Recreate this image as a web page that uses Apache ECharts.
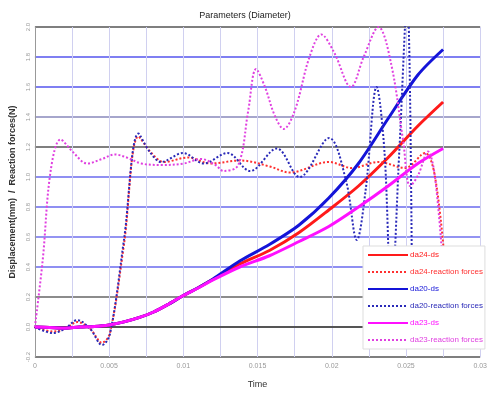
<!DOCTYPE html>
<html>
<head>
<meta charset="utf-8">
<script src="https://cdn.jsdelivr.net/npm/echarts@6/dist/echarts.min.js"></script>
<style>
  html, body { margin: 0; padding: 0; background: #fff; }
  #main { width: 490px; height: 394px; }
</style>
</head>
<body>
<div id="main"></div>
<script>
// displacement curves share one time base
var dsTime = [0, 0.001, 0.002, 0.003, 0.004, 0.005, 0.006, 0.007, 0.008, 0.009, 0.010, 0.011, 0.012,
              0.0138, 0.0158, 0.0178, 0.0198, 0.0218, 0.0238, 0.0258, 0.0275];
var da24Ds = [0, -0.004, -0.008, 0, 0.004, 0.014, 0.034, 0.062, 0.10, 0.152, 0.21, 0.262, 0.318,
              0.42, 0.51, 0.63, 0.78, 0.94, 1.13, 1.34, 1.50];
var da20Ds = [0, -0.004, -0.008, 0, 0.004, 0.014, 0.034, 0.062, 0.10, 0.152, 0.21, 0.262, 0.32,
              0.44, 0.55, 0.68, 0.86, 1.09, 1.39, 1.68, 1.85];
var da23Ds = [0, -0.004, -0.008, 0, 0.004, 0.014, 0.034, 0.062, 0.10, 0.152, 0.21, 0.26, 0.314,
              0.40, 0.475, 0.57, 0.67, 0.80, 0.94, 1.09, 1.19];

// reaction forces
var da24RfTime = [0, 0.0012, 0.002, 0.00286, 0.00373, 0.00452, 0.00506, 0.006, 0.00698, 0.00785, 0.00871,
                  0.01031, 0.01184, 0.01384, 0.01583, 0.01716, 0.01982, 0.02135, 0.02315, 0.02494, 0.02628, 0.02694, 0.0276];
var da24Rf = [0, -0.03, -0.013, 0.033, -0.013, -0.105, -0.04, 0.55, 1.27, 1.16, 1.10,
              1.13, 1.09, 1.11, 1.07, 1.03, 1.10, 1.06, 1.10, 1.06, 1.16, 1.01, 0.45];

var da20RfTime = [0, 0.0012, 0.002, 0.00286, 0.00373, 0.00452, 0.00506, 0.006, 0.00698, 0.00772, 0.00851,
                  0.00998, 0.01138, 0.01297, 0.0145, 0.0163, 0.01783, 0.01982, 0.02095, 0.02169, 0.02228,
                  0.02302, 0.02355, 0.02401, 0.02455, 0.02508, 0.02541];
var da20Rf = [0, -0.04, -0.013, 0.046, -0.013, -0.12, -0.046, 0.58, 1.29, 1.17, 1.10,
              1.16, 1.09, 1.16, 1.04, 1.19, 1.0, 1.26, 0.98, 0.58, 0.91,
              1.60, 1.17, 0.18, 1.17, 2.2, 0.2];

var da23RfTime = [0, 0.00053, 0.00106, 0.00173, 0.00253, 0.00353, 0.00452, 0.00539, 0.00619, 0.00718, 0.00851,
                  0.01004, 0.01118, 0.01217, 0.01271, 0.0137, 0.01437, 0.0149, 0.0155, 0.01616, 0.01676,
                  0.0175, 0.0185, 0.0193, 0.02016, 0.02129, 0.02215, 0.02315, 0.02401, 0.02481, 0.02528,
                  0.02581, 0.02648, 0.02694, 0.0275];
var da23Rf = [0, 0.45, 1.04, 1.25, 1.17, 1.09, 1.12, 1.15, 1.13, 1.09, 1.08,
              1.09, 1.12, 1.08, 1.04, 1.08, 1.44, 1.72, 1.60, 1.41, 1.32,
              1.44, 1.80, 1.95, 1.83, 1.60, 1.80, 2.0, 1.75, 1.24, 0.94,
              1.01, 1.17, 1.01, 0.40];

var seriesNames = ['da24-ds', 'da24-reaction forces', 'da20-ds', 'da20-reaction forces', 'da23-ds', 'da23-reaction forces'];
var seriesColors = ['#ff1a1a', '#ff3030', '#1414d8', '#2a2ab8', '#ff10ff', '#e040e0'];

// y tick range
var yMin = -0.2, yMax = 2.0, yStep = 0.2;
var xMin = 0, xMax = 0.03, xStep = 0.0025;

function zip(t, v) {
  var out = [];
  for (var i = 0; i < t.length; i++) out.push([t[i], v[i]]);
  return out;
}

var myChart = echarts.init(document.getElementById('main'));

var solid = function (i, data) {
  return {
    name: seriesNames[i], type: 'line', data: data, symbol: 'none', smooth: 0.3,
    lineStyle: { color: seriesColors[i], width: 3 }, itemStyle: { color: seriesColors[i] }
  };
};
var dotted = function (i, data) {
  return {
    name: seriesNames[i], type: 'line', data: data, symbol: 'none', smooth: 0.35,
    lineStyle: { color: seriesColors[i], width: 2, type: [2, 2] }, itemStyle: { color: seriesColors[i] }
  };
};

var option = {
  backgroundColor: '#fff',
  animation: false,
  title: {
    text: 'Parameters (Diameter)', left: 'center', top: 6,
    textStyle: { fontSize: 9, fontWeight: 'normal', color: '#222', fontFamily: 'Liberation Sans' }
  },
  grid: { left: 32, right: 6, top: 27, bottom: 34 },
  legend: {
    orient: 'vertical', left: 363, top: 246,
    itemWidth: 40, itemHeight: 8, itemGap: 9,
    padding: [5, 2, 5, 4],
    backgroundColor: '#fff', borderColor: '#ddd', borderWidth: 1,
    itemStyle: { opacity: 0 },
    data: seriesNames.map(function (n, i) {
      return { name: n, textStyle: { color: seriesColors[i] } };
    }),
    textStyle: { fontSize: 8, fontFamily: 'Liberation Sans', padding: [0, 0, 0, -3] }
  },
  xAxis: {
    type: 'value', min: xMin, max: xMax, interval: xStep,
    name: 'Time', nameLocation: 'middle', nameGap: 23,
    nameTextStyle: { fontSize: 9, color: '#333', fontFamily: 'Liberation Sans' },
    axisLine: { lineStyle: { color: '#555', width: 2 } },
    axisTick: { show: false },
    axisLabel: {
      fontSize: 7, color: '#999', margin: 6,
      formatter: function (v) {
        var k = v / 0.005;
        if (Math.abs(k - Math.round(k)) > 1e-6) return '';
        return String(+v.toFixed(4));
      }
    },
    splitLine: { show: true, lineStyle: { color: '#d0d0f0', width: 1 } }
  },
  yAxis: {
    type: 'value', min: yMin, max: yMax, interval: yStep,
    name: 'Displacement(mm)  /  Reaction forces(N)', nameLocation: 'middle', nameGap: 14,
    nameTextStyle: { fontSize: 9, fontWeight: 'bold', color: '#333', fontFamily: 'Liberation Sans' },
    axisLine: { show: true, lineStyle: { color: '#999', width: 1 } },
    axisTick: { show: false },
    axisLabel: {
      fontSize: 6, color: '#999', rotate: 90, margin: 4,
      formatter: function (v) { return (+v).toFixed(1); }
    },
    splitLine: {
      show: true,
      lineStyle: {
        width: 1.5,
        color: ['#555', '#8080d8', '#666', '#6a6aee', '#7070ee', '#6a6aee', '#6a6aee', '#555', '#8888bb', '#5555ee', '#5555ee', '#555']
      }
    }
  },
  series: [
    solid(0, zip(dsTime, da24Ds)),
    dotted(1, zip(da24RfTime, da24Rf)),
    solid(2, zip(dsTime, da20Ds)),
    dotted(3, zip(da20RfTime, da20Rf)),
    solid(4, zip(dsTime, da23Ds)),
    dotted(5, zip(da23RfTime, da23Rf))
  ]
};

myChart.setOption(option);
</script>
</body>
</html>
